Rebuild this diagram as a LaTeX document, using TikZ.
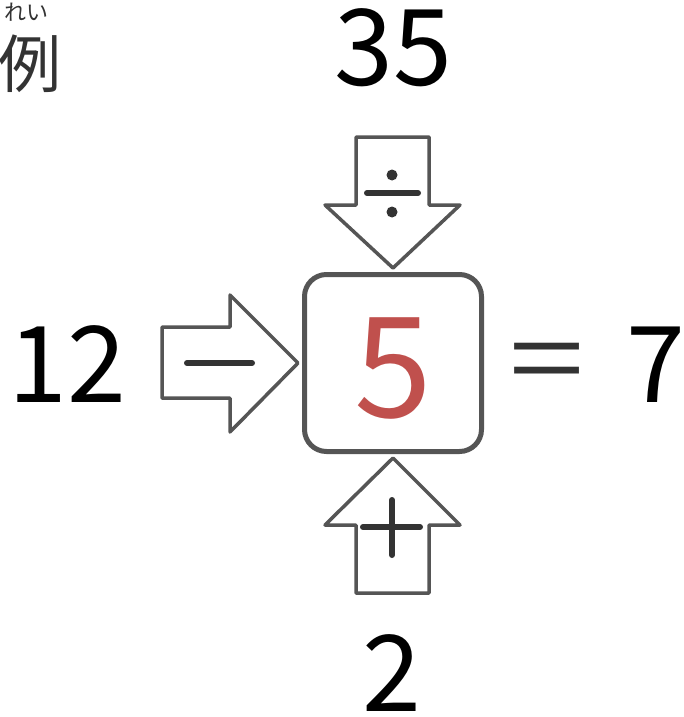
\documentclass[tikz,border=0pt]{standalone}
\usepackage{fontspec}
\setmainfont{Noto Sans CJK JP}
\usepackage{tikz}
\definecolor{boxgray}{RGB}{85, 85, 85}
\definecolor{markgray}{RGB}{51, 51, 51}
\definecolor{answerred}{RGB}{192, 80, 77}
\tikzset{
	blockarrow/.style={draw=boxgray, line width=3.5pt, line join=round, fill=white},
	opmark/.style={draw=markgray, line width=6pt, line cap=round},
	digit/.style={inner sep=0pt, anchor=base, text height=80pt, text depth=0pt, font=\fontsize{106}{106}\selectfont}
}

\begin{document}
\begin{tikzpicture}[x=1pt, y=-1pt]
		\useasboundingbox (0,0) rectangle (684,717);

		% heading
		\node[inner sep=0pt, text=markgray, font=\fontsize{22}{22}\selectfont] (ruby) at (27, 12) {れい};
		\node[inner sep=0pt, text=markgray, font=\fontsize{63}{63}\selectfont] (rei) at (30, 64) {例};

		% centre box
		\node[draw=boxgray, line width=5pt, rounded corners=22pt, minimum size=177pt, inner sep=0pt] (box) at (393, 363) {};
		\node[inner sep=0pt, anchor=base, text=answerred, font=\fontsize{140}{140}\selectfont] (five) at (393, 417) {5};

		% arrows
		\draw[blockarrow] (356,137) -- (429,137) -- (429,205) -- (460,205) -- (393,268) -- (325,205) -- (356,205) -- cycle;
		\draw[blockarrow] (162,327) -- (230,327) -- (230,295) -- (298,363) -- (230,432) -- (230,398) -- (162,398) -- cycle;
		\draw[blockarrow] (356,593) -- (429,593) -- (429,525) -- (460,525) -- (393,458) -- (325,525) -- (356,525) -- cycle;

		% operators
		\draw[opmark] (367,193) -- (418,193);
		\fill[markgray] (392,175) circle (5.5pt);
		\fill[markgray] (392,212) circle (5.5pt);
		\draw[opmark] (187,363) -- (252,363);
		\draw[opmark] (363,527) -- (420,527);
		\draw[opmark] (392,500) -- (392,555);

		% numbers
		\node[digit] (n35) at (393, 85) {35};
		\node[digit] (n12) at (67, 402) {12};
		\node[inner sep=0pt, anchor=base, xscale=1.35, text=markgray, font=\fontsize{100}{100}\selectfont] (eq) at (547, 395) {=};
		\node[digit] (n7) at (656, 402) {7};
		\node[digit] (n2) at (392, 711) {2};
	\end{tikzpicture}
\end{document}
